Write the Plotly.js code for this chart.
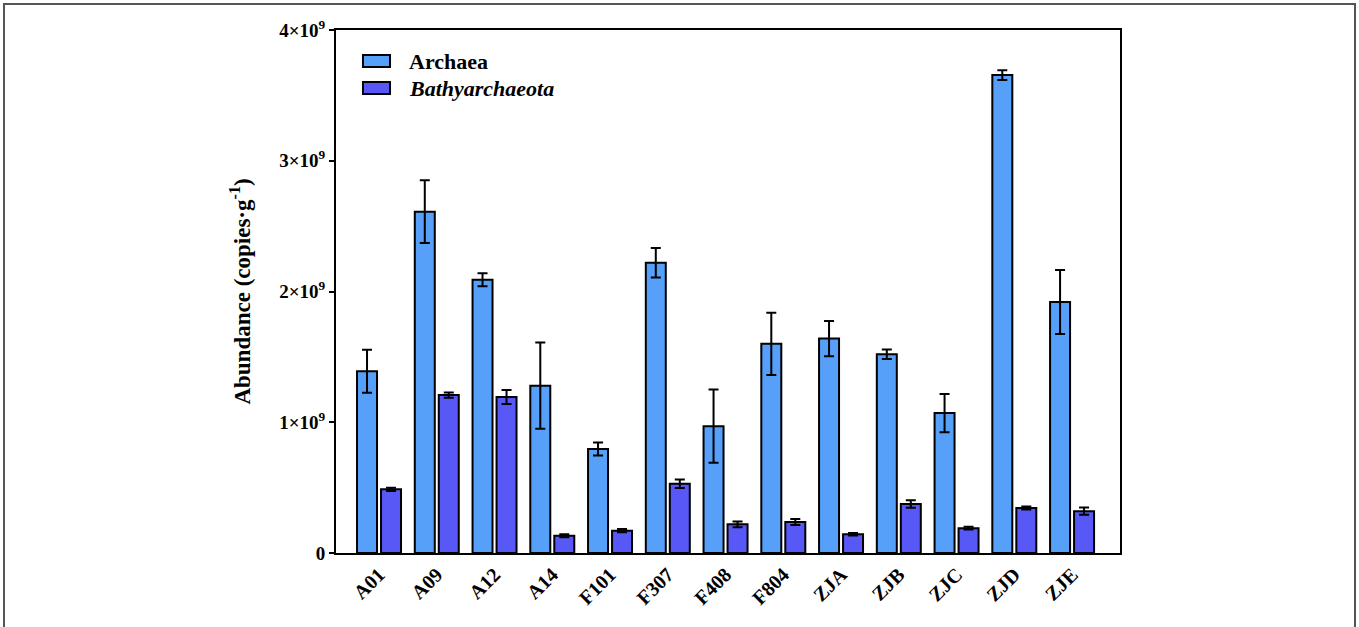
<!DOCTYPE html>
<html>
<head>
<meta charset="utf-8">
<script src="https://cdn.plot.ly/plotly-3.0.1.min.js"></script>
<style>
  html, body { margin: 0; padding: 0; background: #fff; }
  #wrap { position: relative; width: 1359px; height: 627px; overflow: hidden; }
  #chart { position: absolute; left: 0; top: 0; width: 1359px; height: 627px; }
  #frame { position: absolute; left: 3px; top: 3px; width: 1349px; height: 640px;
           border: 2px solid #555; pointer-events: none; }
</style>
</head>
<body>
<div id="wrap">
  <div id="chart"></div>
  <div id="frame"></div>
</div>
<script>
// Sampling sites
const categories = ['A01', 'A09', 'A12', 'A14', 'F101', 'F307', 'F408', 'F804', 'ZJA', 'ZJB', 'ZJC', 'ZJD', 'ZJE'];

// Archaeal 16S rRNA gene abundance (copies per gram) and its standard deviation
const archaea    = [1.39e9, 2.61e9, 2.09e9, 1.28e9, 0.795e9, 2.22e9, 0.97e9, 1.60e9, 1.64e9, 1.52e9, 1.07e9, 3.655e9, 1.92e9];
const archaeaErr = [0.165e9, 0.24e9, 0.05e9, 0.33e9, 0.05e9, 0.113e9, 0.28e9, 0.238e9, 0.135e9, 0.036e9, 0.147e9, 0.038e9, 0.245e9];

// Bathyarchaeota abundance (copies per gram) and its standard deviation
const bathy    = [0.487e9, 1.208e9, 1.193e9, 0.132e9, 0.171e9, 0.53e9, 0.219e9, 0.237e9, 0.143e9, 0.375e9, 0.19e9, 0.344e9, 0.32e9];
const bathyErr = [0.012e9, 0.02e9, 0.054e9, 0.012e9, 0.012e9, 0.033e9, 0.022e9, 0.023e9, 0.01e9, 0.028e9, 0.01e9, 0.012e9, 0.028e9];

// Series names and fills
const seriesNames  = ['Archaea', '<i>Bathyarchaeota</i>'];
const seriesColors = ['#56A0FA', '#5858F6'];

// Y axis ticks
const yTickVals = [0, 1e9, 2e9, 3e9, 4e9];
const yTickText = ['0', '1×10<sup>9</sup>', '2×10<sup>9</sup>', '3×10<sup>9</sup>', '4×10<sup>9</sup>'];

const serif = '"Liberation Serif", "Times New Roman", serif';
const idx = categories.map((_, i) => i);

const errStyle = { type: 'data', visible: true, color: '#000', thickness: 2, width: 5 };

const traces = [
  {
    type: 'bar', name: seriesNames[0], x: idx, y: archaea, showlegend: false,
    marker: { color: seriesColors[0], line: { color: '#000', width: 2 } },
    error_y: Object.assign({ array: archaeaErr }, errStyle)
  },
  {
    type: 'bar', name: seriesNames[1], x: idx, y: bathy, showlegend: false,
    marker: { color: seriesColors[1], line: { color: '#000', width: 2 } },
    error_y: Object.assign({ array: bathyErr }, errStyle)
  }
];

// Key in the upper-left corner: wide swatches with labels beside them
const keyRows = [0.9407, 0.8891];
const keyShapes = keyRows.map((yc, i) => ({
  type: 'rect', xref: 'paper', yref: 'paper',
  x0: 0.0344, x1: 0.0689, y0: yc - 0.0115, y1: yc + 0.0115,
  fillcolor: seriesColors[i], line: { color: '#000', width: 2 }
}));
const keyLabels = keyRows.map((yc, i) => ({
  xref: 'paper', yref: 'paper', x: 0.0906, y: yc,
  xanchor: 'left', yanchor: 'middle', showarrow: false,
  text: '<b>' + seriesNames[i] + '</b>',
  font: { family: serif, size: 22, color: '#000' }
}));

const layout = {
  width: 1359, height: 627,
  margin: { l: 336, r: 239, t: 30, b: 74 },
  paper_bgcolor: '#fff', plot_bgcolor: '#fff',
  font: { family: serif, color: '#000' },
  barmode: 'group', bargap: 0.169, bargroupgap: 0.167,
  showlegend: false,
  shapes: keyShapes,
  annotations: keyLabels,
  xaxis: {
    range: [-0.745, 12.83],
    tickvals: idx, ticktext: categories,
    tickangle: -45, ticks: '', showgrid: false, zeroline: false,
    showline: true, linecolor: '#000', linewidth: 2, mirror: true,
    tickfont: { family: serif, size: 20, color: '#000', weight: 'bold' },
    automargin: false
  },
  yaxis: {
    range: [0, 4e9],
    tickvals: yTickVals, ticktext: yTickText,
    ticks: 'outside', ticklen: 5, tickwidth: 2, tickcolor: '#000',
    showgrid: false, zeroline: false,
    showline: true, linecolor: '#000', linewidth: 2, mirror: true,
    tickfont: { family: serif, size: 19, color: '#000', weight: 'bold' },
    title: { text: 'Abundance (copies·g<sup>-1</sup>)', standoff: 22,
             font: { family: serif, size: 23, color: '#000', weight: 'bold' } },
    automargin: false
  }
};

Plotly.newPlot('chart', traces, layout, { displayModeBar: false, staticPlot: true });
</script>
</body>
</html>
